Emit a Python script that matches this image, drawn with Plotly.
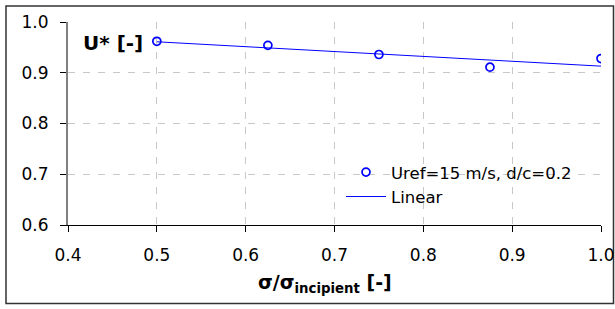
import plotly.graph_objects as go

# Data
sigma_ratio = [0.5, 0.625, 0.75, 0.875, 1.0]
u_star = [0.962, 0.954, 0.936, 0.911, 0.928]
linear_x = [0.5, 1.0]
linear_y = [0.961, 0.913]

x_ticks = [0.4, 0.5, 0.6, 0.7, 0.8, 0.9, 1.0]
y_ticks = [0.6, 0.7, 0.8, 0.9, 1.0]

FONT = "DejaVu Sans, Liberation Sans, Arial, sans-serif"
BLUE = "#0000ff"

fig = go.Figure()
fig.add_trace(go.Scatter(
    x=sigma_ratio, y=u_star, mode="markers",
    name="Uref=15 m/s, d/c=0.2",
    marker=dict(symbol="circle-open", size=8, color=BLUE, line=dict(width=1.7, color=BLUE)),
))
fig.add_trace(go.Scatter(
    x=linear_x, y=linear_y, mode="lines", name="Linear",
    line=dict(color=BLUE, width=1),
))

L, R, T, B = 68, 14, 21.5, 83.5
W, H = 615, 309
pw, ph = W - L - R, H - T - B

def px_x(p):
    return (p - L) / pw

def px_y(p):
    return (H - B - p) / ph

GRID = dict(showgrid=True, gridcolor="#c8c8c8", griddash="7px,8px", gridwidth=1)

fig.update_layout(
    width=W, height=H,
    margin=dict(l=L, r=R, t=T, b=B, autoexpand=False),
    paper_bgcolor="white", plot_bgcolor="white",
    font=dict(family=FONT, size=16, color="black"),
    showlegend=True,
    legend=dict(
        x=px_x(341), y=px_y(155), xanchor="left", yanchor="top",
        bgcolor="rgba(0,0,0,0)", font=dict(size=16.5, family=FONT),
        tracegroupgap=0, itemwidth=40,
    ),
    xaxis=dict(
        range=[0.4, 1.0], tickvals=x_ticks, ticktext=[f"{v:.1f}" for v in x_ticks],
        showline=True, linecolor="black", linewidth=1.3,
        ticks="outside", ticklen=6, tickcolor="black", automargin=False,
        tickfont=dict(size=17, family=FONT), zeroline=False, ticklabelstandoff=8,
        **GRID,
    ),
    yaxis=dict(
        range=[0.6, 1.0], tickvals=y_ticks, ticktext=[f"{v:.1f}" for v in y_ticks],
        showline=True, linecolor="#808080", linewidth=2,
        ticks="outside", ticklen=6, tickcolor="black", automargin=False,
        tickfont=dict(size=17, family=FONT), zeroline=False, ticklabelstandoff=8,
        **GRID,
    ),
    annotations=[
        dict(text="<b>U* [-]</b>", xref="paper", yref="paper",
             x=px_x(81), y=px_y(43), xanchor="left", yanchor="middle",
             showarrow=False, font=dict(size=20, family=FONT)),
        dict(text="<b>σ/σ<sub>incipient</sub> [-]</b>", xref="paper", yref="paper",
             x=px_x(325), y=px_y(284), xanchor="center", yanchor="middle",
             showarrow=False, font=dict(size=19, family=FONT)),
    ],
    shapes=[
        dict(type="rect", xref="paper", yref="paper",
             x0=px_x(6), x1=px_x(613.5), y0=px_y(304.5), y1=px_y(5.5),
             line=dict(color="#333333", width=1.5), fillcolor="rgba(0,0,0,0)", layer="below"),
    ],
)

fig.write_html(
    "out.html",
    config={"displayModeBar": False},
    post_script="document.body.style.margin='0';document.documentElement.style.overflow='hidden';document.body.style.overflow='hidden';",
)
